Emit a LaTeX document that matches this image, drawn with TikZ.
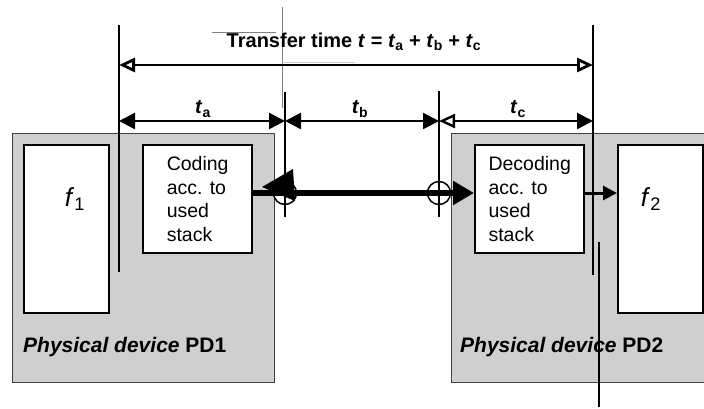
\documentclass[tikz,border=0pt]{standalone}
\usepackage{fontspec}
\setmainfont{Liberation Sans}
\usetikzlibrary{arrows.meta}
\tikzset{
  openhead/.tip={Triangle[length=16pt,width=14pt,fill=white]},
  fullhead/.tip={Triangle[length=16pt,width=16pt]},
  bighead/.tip={Triangle[length=21pt,width=23pt]}}
\begin{document}
\begin{tikzpicture}[x=1pt,y=-1pt,
  dev/.style={draw=black!75, line width=1.2pt, fill=black!19, anchor=north west, inner sep=0pt},
  wbox/.style={draw=black, line width=2.4pt, fill=white, anchor=north west, inner sep=0pt},
  boxtext/.style={font=\fontsize{19.5}{23.5}\selectfont, align=left},
  dim/.style={line width=2.4pt},
  vline/.style={line width=2.2pt},
  ring/.style={circle, draw, line width=1.5pt, minimum size=23pt, inner sep=0pt},
  lbl/.style={font=\bfseries\fontsize{20}{22}\selectfont},
  pdlbl/.style={font=\bfseries\fontsize{21}{24}\selectfont, anchor=west, inner sep=0pt},
  flbl/.style={font=\fontsize{26}{28}\selectfont}]
\useasboundingbox (0,0) rectangle (704,408);

% devices
\node[dev, minimum width=262pt, minimum height=249pt] (pd1) at (12,133) {};
\node[dev, minimum width=254pt, minimum height=249pt] (pd2) at (451,133) {};

% inner boxes
\node[wbox, minimum width=85pt, minimum height=168pt] (f1) at (23,144) {};
\node[wbox, minimum width=109pt, minimum height=108pt, boxtext] (cod) at (142,144) {Coding\\acc. to\\used\\stack};
\node[wbox, minimum width=109pt, minimum height=108pt, boxtext] (dec) at (474,144) {Decoding\\acc. to\\used\\stack};
\node[wbox, minimum width=85pt, minimum height=168pt] (f2) at (617,144) {};

\node[flbl] (f1l) at (75,199) {\textit{f}\textsubscript{1}};
\node[flbl] (f2l) at (651,199) {\textit{f}\textsubscript{2}};

\node[pdlbl] (pd1l) at (23,347) {\textit{Physical device} PD1};
\node[pdlbl] (pd2l) at (460,347) {\textit{Physical device} PD2};

% grey stray lines
\draw[gray, line width=1pt] (282,7) -- (282,108);
\draw[gray, line width=1pt] (212,32) -- (276,32);
\draw[black!20, line width=0.8pt] (282,62) -- (355,62);

% ring positions
\coordinate (p1) at (285,193);
\coordinate (p2) at (439,193);

% thick transfer line
\draw[line width=6.5pt, -{bighead}] (cod.east |- p1) -- (dec.west |- p2);
\node[ring] (c1) at (p1) {};
\node[ring] (c2) at (p2) {};
\draw[line width=1.2pt] (c1.west) -- (c1.east);
\draw[line width=1.2pt] (c2.west) -- (c2.east);
% skewed left head
\fill (262,187) -- (293,169) -- (295,201) -- cycle;

% decoding -> f2
\draw[line width=3pt, -{Triangle[length=14pt,width=14pt]}] (dec.east |- c2) -- (f2.west |- c2);

% vertical extension lines
\coordinate (aT) at (119,25); \coordinate (aB) at (119,272);
\coordinate (dT) at (593,25); \coordinate (dB) at (593,275);
\coordinate (bT) at (285,92); \coordinate (bB) at (285,217);
\coordinate (cT) at (439,91); \coordinate (cB) at (439,217);
\coordinate (eT) at (599,242); \coordinate (eB) at (599,407);
\draw[vline] (aT) -- (aB);
\draw[vline] (dT) -- (dB);
\draw[vline] (bT) -- (bB);
\draw[vline] (cT) -- (cB);
\draw[vline] (eT) -- (eB);

% dimension arrows
\coordinate (t1) at (119,65); \coordinate (t2) at (593,65);
\coordinate (r1) at (119,121); \coordinate (r2) at (285,121);
\coordinate (r3) at (439,121); \coordinate (r4) at (593,121);
\draw[line width=2.8pt, {openhead}-{openhead}] (t1) -- (t2);
\draw[dim, {fullhead}-{fullhead}] (r1) -- (r2);
\draw[dim, {fullhead}-{fullhead}] (r2) -- (r3);
\draw[dim, {openhead}-{fullhead}] (r3) -- (r4);

% labels
\node[lbl] (title) at (354,42) {Transfer time \textit{t} = \textit{t}\textsubscript{a} + \textit{t}\textsubscript{b} + \textit{t}\textsubscript{c}};
\node[lbl] (la) at (203,109) {\textit{t}\textsubscript{a}};
\node[lbl] (lb) at (360,109) {\textit{t}\textsubscript{b}};
\node[lbl] (lc) at (518,109) {\textit{t}\textsubscript{c}};
\end{tikzpicture}
\end{document}
